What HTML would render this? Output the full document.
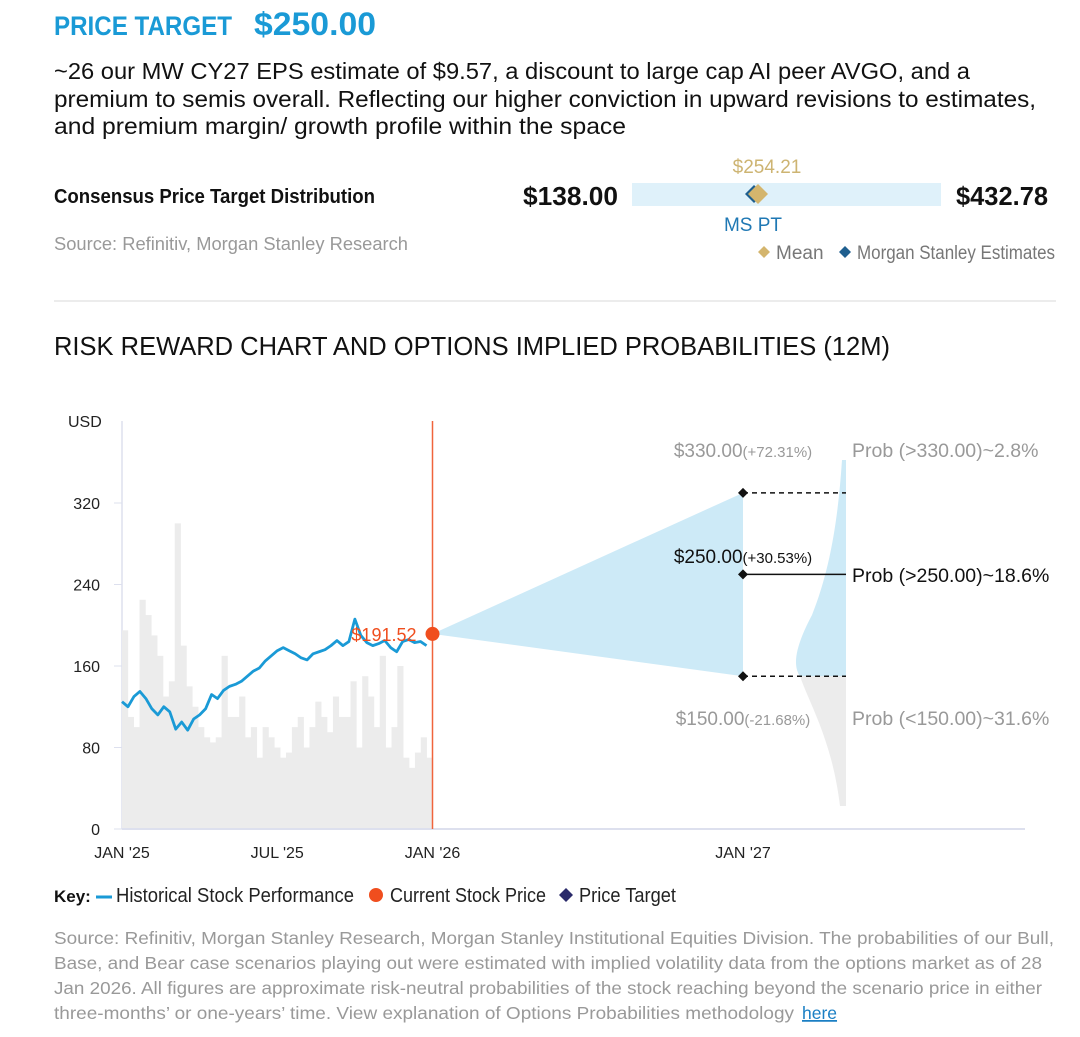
<!DOCTYPE html>
<html><head><meta charset="utf-8"><style>
body{margin:0;background:#fff;}
svg{display:block;font-family:"Liberation Sans",sans-serif;}
.n{font-family:"Liberation Sans Narrow","Liberation Sans",sans-serif;}
</style></head><body>
<svg id="svg" width="1080" height="1037" viewBox="0 0 1080 1037">
<g>
<text x="54" y="35" font-size="27" font-weight="bold" fill="#1a9ad6" textLength="178" lengthAdjust="spacingAndGlyphs">PRICE TARGET</text>
<text x="254" y="35" font-size="32" font-weight="bold" fill="#1a9ad6" textLength="122" lengthAdjust="spacingAndGlyphs">$250.00</text>
<text x="54" y="79" font-size="23" fill="#111" textLength="916" lengthAdjust="spacingAndGlyphs">~26 our MW CY27 EPS estimate of $9.57, a discount to large cap AI peer AVGO, and a</text>
<text x="54" y="107" font-size="23" fill="#111" textLength="982" lengthAdjust="spacingAndGlyphs">premium to semis overall. Reflecting our higher conviction in upward revisions to estimates,</text>
<text x="54" y="134" font-size="23" fill="#111" textLength="572" lengthAdjust="spacingAndGlyphs">and premium margin/ growth profile within the space</text>
</g>
<g>
<text class="n" x="54" y="203" font-size="20" font-weight="bold" fill="#111" textLength="321" lengthAdjust="spacingAndGlyphs">Consensus Price Target Distribution</text>
<text x="54" y="250" font-size="18" fill="#999" textLength="354" lengthAdjust="spacingAndGlyphs">Source: Refinitiv, Morgan Stanley Research</text>
<text x="523" y="205" font-size="26" font-weight="bold" fill="#111" textLength="95" lengthAdjust="spacingAndGlyphs">$138.00</text>
<rect x="632" y="183" width="309" height="23" fill="#dff1fa"/>
<text x="956" y="205" font-size="26" font-weight="bold" fill="#111" textLength="92" lengthAdjust="spacingAndGlyphs">$432.78</text>
<path d="M754,185 L763,194 L754,203 L745,194 Z" fill="#1f5f8f"/>
<path d="M758,184 L768,194 L758,204 L748,194 Z" fill="#d4b56d"/>
<text x="767" y="173" font-size="19" fill="#cdb472" text-anchor="middle">$254.21</text>
<text class="n" x="753" y="231" font-size="19" fill="#1f78b4" text-anchor="middle">MS PT</text>
<path d="M764,246 L770,252 L764,258 L758,252 Z" fill="#d4b56d"/>
<text class="n" x="776" y="259" font-size="19" fill="#777">Mean</text>
<path d="M845,246 L851,252 L845,258 L839,252 Z" fill="#1f5f8f"/>
<text class="n" x="857" y="259" font-size="19" fill="#777" textLength="198" lengthAdjust="spacingAndGlyphs">Morgan Stanley Estimates</text>
</g>
<line x1="54" y1="301" x2="1056" y2="301" stroke="#e6e6e6" stroke-width="1.5"/>
<text x="54" y="355" font-size="26" fill="#111" textLength="836" lengthAdjust="spacingAndGlyphs">RISK REWARD CHART AND OPTIONS IMPLIED PROBABILITIES (12M)</text>
<g id="chart"></g>
<g>
<text class="n" x="54" y="902" font-size="17" font-weight="bold" fill="#111">Key:</text>
<line x1="96" y1="897" x2="112" y2="897" stroke="#1a9ad6" stroke-width="3"/>
<text class="n" x="116" y="902" font-size="20" fill="#222" textLength="238" lengthAdjust="spacingAndGlyphs">Historical Stock Performance</text>
<circle cx="376" cy="895" r="7" fill="#f04e1e"/>
<text class="n" x="390" y="902" font-size="20" fill="#222" textLength="156" lengthAdjust="spacingAndGlyphs">Current Stock Price</text>
<path d="M566,888 L573,895 L566,902 L559,895 Z" fill="#2a2a6a"/>
<text class="n" x="579" y="902" font-size="20" fill="#222" textLength="97" lengthAdjust="spacingAndGlyphs">Price Target</text>
</g>
<g font-size="17.5" fill="#999">
<text x="54" y="944" textLength="1000" lengthAdjust="spacingAndGlyphs">Source: Refinitiv, Morgan Stanley Research, Morgan Stanley Institutional Equities Division. The probabilities of our Bull,</text>
<text x="54" y="969" textLength="988" lengthAdjust="spacingAndGlyphs">Base, and Bear case scenarios playing out were estimated with implied volatility data from the options market as of 28</text>
<text x="54" y="994" textLength="988" lengthAdjust="spacingAndGlyphs">Jan 2026. All figures are approximate risk-neutral probabilities of the stock reaching beyond the scenario price in either</text>
<text x="54" y="1019" textLength="740" lengthAdjust="spacingAndGlyphs">three-months’ or one-years’ time. View explanation of Options Probabilities methodology</text>
<text x="802" y="1019" fill="#1a7fc4" text-decoration="underline">here</text>
</g>
</svg>
<script>
const yTicks=[0,80,160,240,320];
const xTickLabels=["JAN '25","JUL '25","JAN '26","JAN '27"];
const xTickMonths=[0,6,12,24];
const prices=[125,120,130,135,128,118,112,120,115,98,105,97,108,112,118,132,128,136,140,142,145,150,155,158,165,170,175,178,175,172,168,166,172,174,176,180,185,180,184,206,190,183,180,182,185,178,174,184,186,183,184,180];
const volumes=[195,110,100,225,210,190,170,130,145,300,180,140,120,100,90,85,90,170,110,110,130,90,100,70,100,90,80,70,75,100,110,80,100,125,110,95,130,110,110,145,80,150,130,100,170,80,100,160,70,60,75,90,70];
const currentPrice=191.52;
const bullPrice=330, basePrice=250, bearPrice=150;
const bullProb=2.8, baseProb=18.6, bearProb=31.6;
const ns="http://www.w3.org/2000/svg";
const g=document.getElementById('chart');
const Y=v=>829-v*(326/320);
const X=m=>122+m*(310.5/12);
function mk(t,a,p){const e=document.createElementNS(ns,t);for(const k in a)e.setAttribute(k,a[k]);(p||g).appendChild(e);return e;}
let e;
e=mk('line',{x1:122,y1:421,x2:122,y2:829,stroke:'#dde0ee','stroke-width':1.5});


e=mk('text',{x:68,y:427,'font-size':16,fill:'#222'});e.textContent='USD';


yTicks.forEach(v=>{
 e=mk('text',{x:100,y:Y(v)+6,'font-size':16,fill:'#222','text-anchor':'end'});e.textContent=v;
 
 
 e=mk('line',{x1:114,y1:Y(v),x2:122,y2:Y(v),stroke:'#dde0ee','stroke-width':1});
 
 
});
const bw=310.5/volumes.length;
volumes.forEach((v,i)=>{
 e=mk('rect',{x:X(0)+i*bw,y:Y(v),width:bw+0.3,height:Y(0)-Y(v),fill:'#ececec'});
 
 
});
e=mk('line',{x1:122,y1:829,x2:1025,y2:829,stroke:'#dde0ee','stroke-width':2});


xTickLabels.forEach((l,i)=>{
 e=mk('text',{x:X(xTickMonths[i]),y:858,'font-size':16,fill:'#222','text-anchor':'middle'});e.textContent=l;
 
 
});
e=mk('path',{d:`M${X(12)},${Y(currentPrice)} L${X(24)},${Y(bullPrice)} L${X(24)},${Y(bearPrice)} Z`,fill:'#cdeaf7'});


const dx=846, dTop=460, dBot=806, yb=Y(bearPrice);
e=mk('path',{d:`M${dx},${dTop} L${dx-4},${dTop} C${dx-8},520 ${dx-16},570 ${dx-34},615 C${dx-50},645 ${dx-54},665 ${dx-46},${yb} L${dx},${yb} Z`,fill:'#cdeaf7'});


e=mk('path',{d:`M${dx-46},${yb} C${dx-36},705 ${dx-14},740 ${dx-6},${dBot} L${dx},${dBot} L${dx},${yb} Z`,fill:'#ececec'});


e=mk('line',{x1:X(12),y1:421,x2:X(12),y2:829,stroke:'#f0643c','stroke-width':1.5});


const pts=prices.map((p,i)=>`${X(i*12/prices.length)},${Y(p)}`).join(' ');
e=mk('polyline',{points:pts,fill:'none',stroke:'#1a9ad6','stroke-width':2.8,'stroke-linejoin':'round'});


e=mk('text',{x:X(12)-16,y:Y(currentPrice)+7,'font-size':18,fill:'#f04e1e','text-anchor':'end'});e.textContent='$'+currentPrice.toFixed(2);


e=mk('circle',{cx:X(12),cy:Y(currentPrice),r:7,fill:'#f04e1e'});


[[bullPrice,'bull',true],[basePrice,'base',false],[bearPrice,'bear',true]].forEach(([v,n,d])=>{
 const y=Y(v),x=X(24);
 e=mk('line',{x1:x,y1:y,x2:dx,y2:y,stroke:'#111','stroke-width':1.5,'stroke-dasharray':d?'5,4':'none'});
 
 
 e=mk('path',{d:`M${x},${y-5} L${x+5},${y} L${x},${y+5} L${x-5},${y} Z`,fill:'#111'});
 
 
});
function lab(x,y,main,pct,col,name){
 e=mk('text',{x:x,y:y,'font-size':19,fill:col,'text-anchor':'middle'});
 
 
 const a=document.createElementNS(ns,'tspan');a.textContent=main;e.appendChild(a);
 const b=document.createElementNS(ns,'tspan');b.setAttribute('font-size',15);b.textContent=pct;e.appendChild(b);
}
const pc=v=>((v/currentPrice-1)*100);
lab(X(24),457,'$'+bullPrice.toFixed(2),'(+'+pc(bullPrice).toFixed(2)+'%)','#999','bull-label');
lab(X(24),563,'$'+basePrice.toFixed(2),'(+'+pc(basePrice).toFixed(2)+'%)','#111','base-label');
lab(X(24),725,'$'+bearPrice.toFixed(2),'('+pc(bearPrice).toFixed(2)+'%)','#999','bear-label');
[[457,'Prob (>'+bullPrice.toFixed(2)+')~'+bullProb+'%','#999','bull-prob'],[582,'Prob (>'+basePrice.toFixed(2)+')~'+baseProb+'%','#111','base-prob'],[725,'Prob (<'+bearPrice.toFixed(2)+')~'+bearProb+'%','#999','bear-prob']].forEach(([y,t,c,n])=>{
 e=mk('text',{x:852,y:y,'font-size':19.5,fill:c});e.textContent=t;
 
 
});
</script>
</body></html>
